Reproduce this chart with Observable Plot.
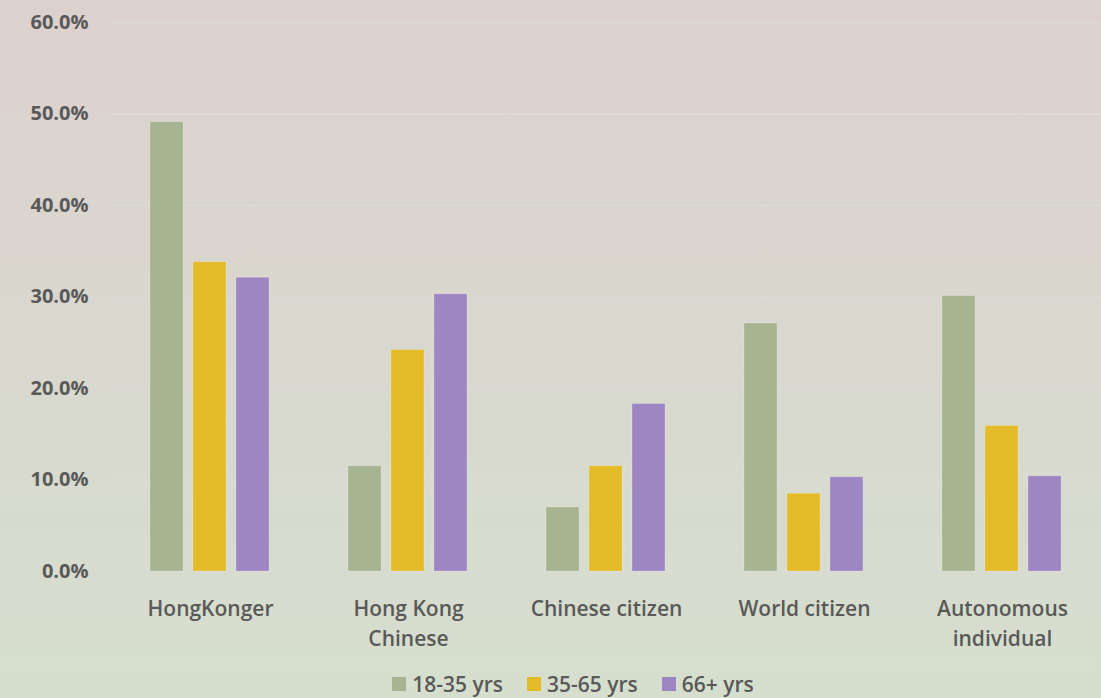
<!DOCTYPE html>
<html>
<head>
<meta charset="utf-8">
<script src="https://cdn.jsdelivr.net/npm/d3@7"></script>
<script src="https://cdn.jsdelivr.net/npm/@observablehq/plot@0.6"></script>
<style>
  html, body { margin: 0; padding: 0; }
  body {
    width: 1101px; height: 698px; overflow: hidden;
    background: linear-gradient(to bottom, #ddd1ce 0%, #d9d8cf 50%, #d6dfce 100%);
    font-family: "Open Sans", sans-serif;
  }
  #chart svg { display: block; background: transparent; }
  #legend {
    height: 28px; display: flex; justify-content: center; align-items: center;
    padding-left: 45px; gap: 24px; color: #595959; font-size: 21px; font-weight: 600;
  }
  #legend .item { display: flex; align-items: center; gap: 6px; }
  #legend .sw { width: 14px; height: 14px; display: inline-block; }
</style>
</head>
<body>
<div id="chart"></div>
<div id="legend"></div>
<script>
const categories = ["HongKonger", "Hong Kong Chinese", "Chinese citizen", "World citizen", "Autonomous individual"];
const categoryLabels = ["HongKonger", "Hong Kong\nChinese", "Chinese citizen", "World citizen", "Autonomous\nindividual"];
const seriesNames = ["18-35 yrs", "35-65 yrs", "66+ yrs"];
const seriesColors = ["#a6b491", "#e4bb29", "#9e86c2"];
const values18to35 = [49.1, 11.5, 7.0, 27.1, 30.1];
const values35to65 = [33.8, 24.2, 11.5, 8.5, 15.9];
const values66plus = [32.1, 30.3, 18.3, 10.3, 10.4];
const yTicks = [0, 10, 20, 30, 40, 50, 60];

const seriesValues = [values18to35, values35to65, values66plus];
const data = [];
categories.forEach((c, i) => {
  seriesNames.forEach((s, j) => data.push({category: c, series: s, value: seriesValues[j][i]}));
});
const labelOf = new Map(categories.map((c, i) => [c, categoryLabels[i]]));
const textColor = "#595959";

const chart = Plot.plot({
  width: 1101,
  height: 670,
  marginTop: 22,
  marginBottom: 99,
  marginLeft: 110,
  marginRight: 0,
  style: {background: "transparent", fontFamily: "Open Sans, sans-serif"},
  fx: {domain: categories, paddingInner: 0.385, paddingOuter: 0.1925, axis: null, label: null},
  x: {domain: seriesNames, paddingInner: 0.227, paddingOuter: 0, axis: null},
  y: {domain: [0, 60], axis: null},
  color: {domain: seriesNames, range: seriesColors},
  marks: [
    Plot.ruleY(yTicks, {y: d => d, stroke: "#dbdad8", strokeWidth: 1.6, insetLeft: -38.2, insetRight: -38.2}),
    Plot.barY(data, {fx: "category", x: "series", y: "value", fill: "series",
      stroke: "#ffffff", strokeOpacity: 0.2, strokeWidth: 1}),
    Plot.axisY(yTicks, {tickSize: 0, tickPadding: 61, tickFormat: d => d.toFixed(1) + "%",
      fontSize: 20, fontWeight: 700, fill: textColor, label: null}),
    Plot.text(categories, {fx: d => d, text: d => labelOf.get(d), frameAnchor: "bottom",
      lineAnchor: "top", dy: 24, lineHeight: 1.4, fontSize: 21, fontWeight: 600, fill: textColor})
  ]
});
document.getElementById("chart").appendChild(chart);

const legend = document.getElementById("legend");
seriesNames.forEach((s, i) => {
  const item = document.createElement("span");
  item.className = "item";
  const sw = document.createElement("span");
  sw.className = "sw";
  sw.style.background = seriesColors[i];
  const t = document.createElement("span");
  t.textContent = s;
  item.appendChild(sw);
  item.appendChild(t);
  legend.appendChild(item);
});
</script>
</body>
</html>
